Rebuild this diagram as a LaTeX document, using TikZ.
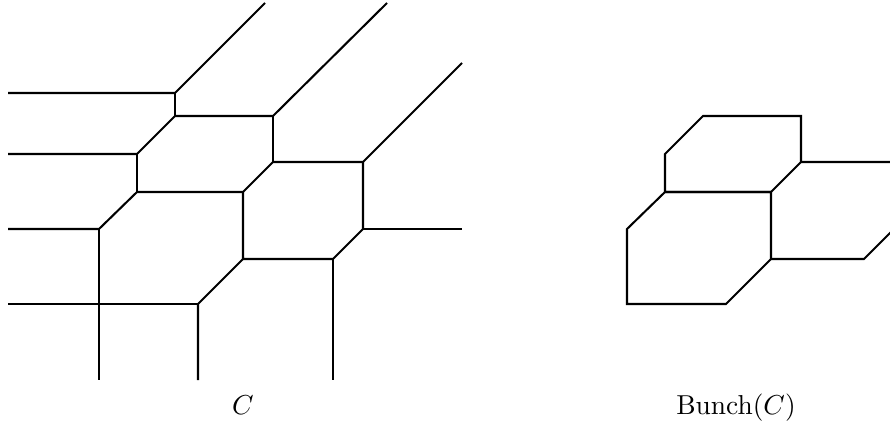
\documentclass[tikz,border=0pt]{standalone}
\usetikzlibrary{positioning}

\begin{document}
\begin{tikzpicture}[x=0.365pt, y=-0.365pt, line width=0.75pt, edge/.style={draw=black, line join=miter}]
        \useasboundingbox (0,0) rectangle (890,431);
        \clip (0,0) rectangle (890,431);

        % Vertices of C
        \coordinate (A) at (175,93);
        \coordinate (B) at (175,116);
        \coordinate (D) at (273,116);
        \coordinate (E) at (137,154);
        \coordinate (F) at (137,192);
        \coordinate (G) at (243,192);
        \coordinate (H) at (273,162);
        \coordinate (I) at (363,162);
        \coordinate (J) at (99,229);
        \coordinate (K) at (363,229);
        \coordinate (L) at (243,259);
        \coordinate (M) at (333,259);
        \coordinate (N) at (198,304);
        \coordinate (X) at (99,304);

        % Free ends of C
        \coordinate (a1) at (8,93);
        \coordinate (a2) at (265,3);
        \coordinate (d2) at (387,3);
        \coordinate (e1) at (8,154);
        \coordinate (i2) at (462,63);
        \coordinate (j1) at (8,229);
        \coordinate (k2) at (462,229);
        \coordinate (x1) at (8,304);
        \coordinate (j3) at (99,380);
        \coordinate (n3) at (198,380);
        \coordinate (m3) at (333,380);

        % Edges of C
        \draw[edge] (a1) -- (A) -- (a2);
        \draw[edge] (A) -- (B);
        \draw[edge] (e1) -- (E) -- (B) -- (D) -- (d2);
        \draw[edge] (E) -- (F);
        \draw[edge] (D) -- (H);
        \draw[edge] (j1) -- (J) -- (F) -- (G) -- (H) -- (I) -- (i2);
        \draw[edge] (G) -- (L) -- (M) -- (K) -- (I);
        \draw[edge] (K) -- (k2);
        \draw[edge] (M) -- (m3);
        \draw[edge] (L) -- (N) -- (n3);
        \draw[edge] (x1) -- (X) -- (N);
        \draw[edge] (J) -- (X) -- (j3);

        % Vertices of Bunch(C)
        \coordinate (bB) at (703,116);
        \coordinate (bD) at (801,116);
        \coordinate (bE) at (665,154);
        \coordinate (bF) at (665,192);
        \coordinate (bG) at (771,192);
        \coordinate (bH) at (801,162);
        \coordinate (bI) at (894,162);
        \coordinate (bJ) at (627,229);
        \coordinate (bK) at (894,229);
        \coordinate (bL) at (771,259);
        \coordinate (bM) at (864,259);
        \coordinate (bN) at (726,304);
        \coordinate (bX) at (627,304);

        % Edges of Bunch(C)
        \draw[edge] (bB) -- (bD) -- (bH) -- (bG) -- (bF) -- (bE) -- cycle;
        \draw[edge] (bF) -- (bG) -- (bL) -- (bN) -- (bX) -- (bJ) -- cycle;
        \draw[edge] (bH) -- (bI) -- (bK) -- (bM) -- (bL);

        % Labels
        \node[anchor=base] (lblC) at (243,414) {$C$};
        \node[anchor=base] (lblBunch) at (736,414) {Bunch$(C)$};
\end{tikzpicture}
\end{document}
